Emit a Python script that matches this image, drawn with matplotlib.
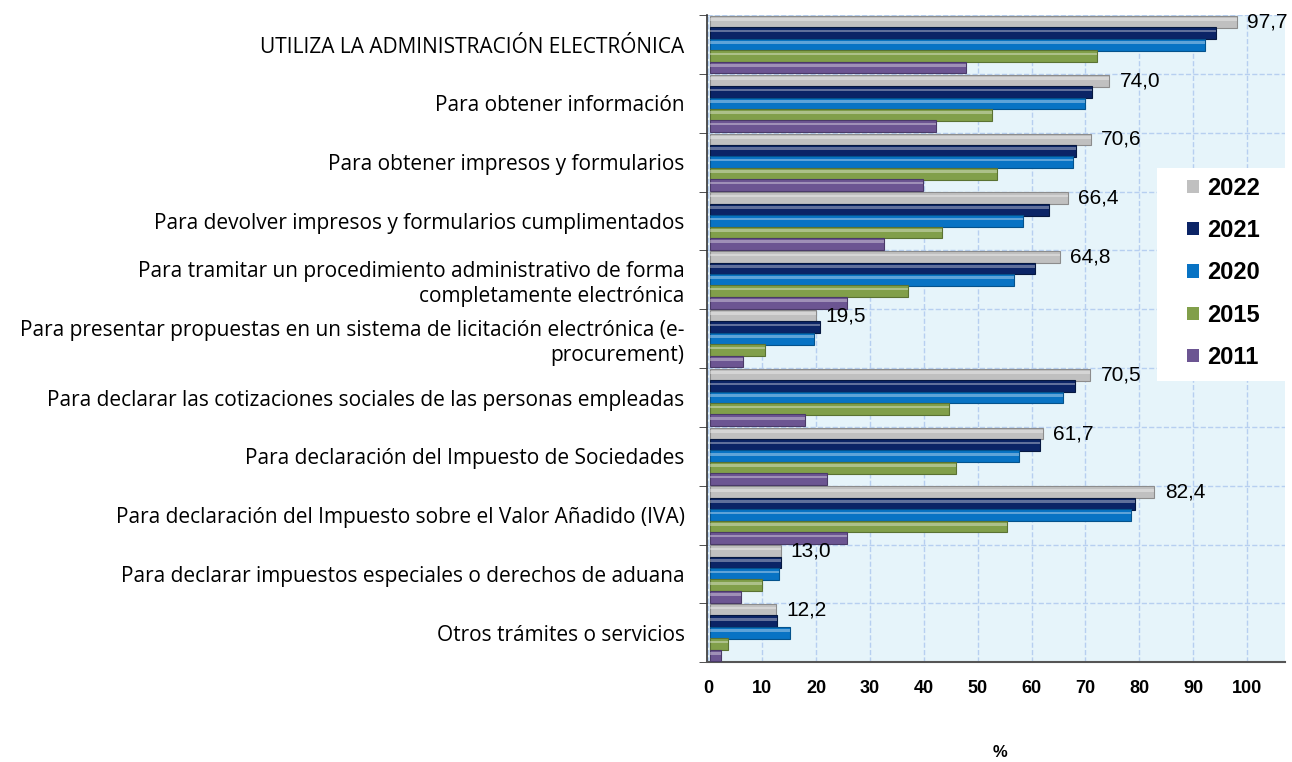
import numpy as np
import matplotlib.pyplot as plt
from matplotlib.patches import Patch, Rectangle

categorias = [
    'UTILIZA LA ADMINISTRACIÓN ELECTRÓNICA',
    'Para obtener información',
    'Para obtener impresos y formularios',
    'Para devolver impresos y formularios cumplimentados',
    'Para tramitar un procedimiento administrativo de forma\ncompletamente electrónica',
    'Para presentar propuestas en un sistema de licitación electrónica (e-\nprocurement)',
    'Para declarar las cotizaciones sociales de las personas empleadas',
    'Para declaración del Impuesto de Sociedades',
    'Para declaración del Impuesto sobre el Valor Añadido (IVA)',
    'Para declarar impuestos especiales o derechos de aduana',
    'Otros trámites o servicios',
]
anios = ['2022', '2021', '2020', '2015', '2011']
v2022 = [97.7, 74.0, 70.6, 66.4, 64.8, 19.5, 70.5, 61.7, 82.4, 13.0, 12.2]
v2021 = [93.8, 70.9, 67.9, 62.9, 60.3, 20.3, 67.6, 61.2, 78.8, 13.1, 12.3]
v2020 = [91.8, 69.5, 67.3, 58.1, 56.3, 19.3, 65.5, 57.2, 78.1, 12.7, 14.8]
v2015 = [71.8, 52.3, 53.2, 42.9, 36.6, 10.1, 44.2, 45.5, 55.1, 9.6, 3.2]
v2011 = [47.4, 41.8, 39.4, 32.2, 25.4, 6.1, 17.6, 21.6, 25.4, 5.6, 2.0]
series = [v2022, v2021, v2020, v2015, v2011]
colores = ['#c0c0c0', '#0b2466', '#0873c4', '#819f4a', '#6c5592']
bordes = ['#8c8c8c', '#061840', '#05528c', '#5a7232', '#4a3a68']

fig = plt.figure(figsize=(12.92, 7.62), dpi=100)
ax = fig.add_axes([0.547, 0.131, 0.4474, 0.849])
ax.set_facecolor('#e6f4fa')

n = len(categorias)
y = np.arange(n)
paso = 0.194
alto = 0.2
for k, (vals, c, b) in enumerate(zip(series, colores, bordes)):
    yy = y - 2 * paso + k * paso
    ax.barh(yy, vals, height=alto, left=0.4, color=c, edgecolor=b, linewidth=0.8,
            label=anios[k], zorder=3)
    # brillo superior para efecto cilindrico
    ax.barh(yy - alto * 0.18, vals, height=alto * 0.22, left=0.4, color='white',
            alpha=0.35, linewidth=0, zorder=4)

for i, v in enumerate(v2022):
    ax.text(v + 2.3, y[i] - 2 * paso, f'{v:.1f}'.replace('.', ','),
            va='center', ha='left', fontsize=15, family='Liberation Sans', zorder=5)

ax.set_ylim(n - 0.5, -0.5)
ax.set_xlim(-0.3, 107)
ax.set_xticks(np.arange(0, 101, 10))
ax.set_xticklabels([str(t) for t in range(0, 101, 10)], fontsize=13,
                   fontweight='bold', family='Liberation Sans')
ax.set_yticks(np.arange(n + 1) - 0.5, minor=True)
ax.set_yticks(y)
ax.set_yticklabels(categorias, fontsize=15, family='Open Sans', linespacing=1.25)
ax.tick_params(axis='y', which='major', length=0, pad=16)
ax.tick_params(axis='y', which='minor', length=6, direction='out', color='#333333')
ax.tick_params(axis='x', length=0, pad=13)
ax.grid(True, which='major', axis='x', color='#b7cff0', linestyle='--', linewidth=1, zorder=0)
ax.grid(True, which='minor', axis='y', color='#b7cff0', linestyle='--', linewidth=1, zorder=0)

for s in ['top', 'right']:
    ax.spines[s].set_visible(False)
ax.spines['left'].set_color('#333333')
ax.spines['left'].set_linewidth(1.2)
ax.spines['bottom'].set_color('#555555')
ax.spines['bottom'].set_linewidth(1.5)

fig.text(0.774, 0.003, '%', ha='center', va='bottom', fontsize=12,
         fontweight='bold', family='Liberation Sans')

# fondo blanco de la leyenda
ax.add_patch(Rectangle((0.779, 0.434), 0.225, 0.33, transform=ax.transAxes,
                       facecolor='white', edgecolor='none', zorder=6, clip_on=False))
handles = [Patch(facecolor=c, edgecolor='none') for c in colores]
leg = ax.legend(handles, anios, loc='upper left', bbox_to_anchor=(0.802, 0.776),
                frameon=False, handlelength=0.5, handleheight=0.5, handletextpad=0.35,
                labelspacing=0.82, borderpad=0.7, borderaxespad=0,
                prop={'size': 17, 'weight': 'bold', 'family': 'Liberation Sans'})
leg.set_zorder(7)

fig.savefig('out.png', dpi=100)
